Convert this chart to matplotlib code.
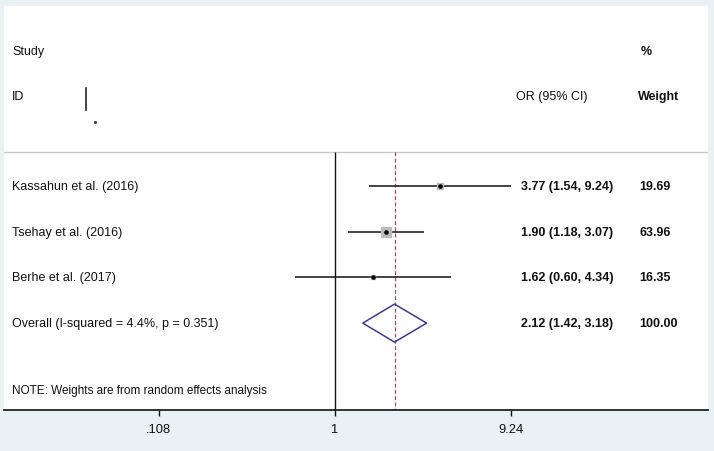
import numpy as np
import matplotlib
matplotlib.use("Agg")
import matplotlib.pyplot as plt
from matplotlib.patches import Polygon
import matplotlib.transforms as mtransforms

plt.rcParams['font.family'] = ['Liberation Sans', 'DejaVu Sans']

# ---- data ----
studies = ["Kassahun et al. (2016)", "Tsehay et al. (2016)", "Berhe et al. (2017)"]
or_est = [3.77, 1.90, 1.62]
ci_low = [1.54, 1.18, 0.60]
ci_high = [9.24, 3.07, 4.34]
weights = [19.69, 63.96, 16.35]
overall_label = "Overall (I-squared = 4.4%, p = 0.351)"
overall_est, overall_low, overall_high = 2.12, 1.42, 3.18
overall_weight = 100.00
tick_values = [0.108, 1, 9.24]
tick_labels = [".108", "1", "9.24"]
note = "NOTE: Weights are from random effects analysis"

# ---- layout (pixel based) ----
W, H = 714, 452
fig = plt.figure(figsize=(W / 100, H / 100), dpi=100)
fig.patch.set_facecolor("#e9f1f4")

left_px, right_px, top_px, bot_px = 4, 708, 7, 411
ax = fig.add_axes([left_px / W, 1 - bot_px / H, (right_px - left_px) / W, (bot_px - top_px) / H])
ax.set_facecolor("white")
ax.set_xscale("log")
ppl = 79.2       # pixels per ln unit
x1_px = 335      # pixel of OR = 1
ax.set_xlim(np.exp((left_px - x1_px) / ppl), np.exp((right_px - x1_px) / ppl))
ax.set_ylim(bot_px, top_px)

for s in ["top", "left", "right"]:
    ax.spines[s].set_visible(False)
ax.spines["bottom"].set_linewidth(1.2)
ax.spines["bottom"].set_color("#111111")
ax.set_yticks([])
ax.set_xticks(tick_values)
ax.set_xticklabels(tick_labels)
ax.minorticks_off()
ax.tick_params(axis="x", direction="out", length=4.5, width=1.0, pad=5,
               labelsize=9.3, colors="#111111")

row0, dy = 187, 45.7
rows = [row0 + i * dy for i in range(len(studies) + 1)]
sep_y = 153

# separator line
ax.axhline(sep_y, color="#c8c8c8", lw=1.0)
# null line
ax.vlines(1, sep_y, bot_px, color="#111111", lw=1.0)
# overall dashed line
ax.vlines(overall_est, sep_y, bot_px, color="#a84a55", lw=0.9, linestyles=(0, (3, 2)))

# study CIs and boxes
max_box = 7.0
for i in range(len(studies)):
    y = rows[i]
    ax.hlines(y, ci_low[i], ci_high[i], color="#111111", lw=1.1, zorder=3)
    ms = max_box * np.sqrt(weights[i] / max(weights))
    ax.plot(or_est[i], y, marker="s", ms=ms, color="#bbbbbb", mec="#bbbbbb", zorder=4)
    ax.plot(or_est[i], y, marker="o", ms=2.3, color="#000000", zorder=5)

# diamond
yo = rows[-1]
hd = 19
diamond = Polygon([(overall_low, yo), (overall_est, yo - hd), (overall_high, yo), (overall_est, yo + hd)],
                  closed=True, fill=False, edgecolor="#3c3c8c", lw=1.1, zorder=4)
ax.add_patch(diamond)

# ---- text ----
trans = mtransforms.blended_transform_factory(fig.transFigure, ax.transData)
def fx(px):
    return px / W

fs = 9
ax.text(fx(12), 52, "Study", transform=trans, fontsize=fs, va="center", ha="left", color="#111111")
ax.text(fx(12), 97, "ID", transform=trans, fontsize=fs, va="center", ha="left", color="#111111")
ax.text(fx(641), 52, "%", transform=trans, fontsize=fs, va="center", ha="left", fontweight="bold", color="#111111")
ax.text(fx(516), 97, "OR (95% CI)", transform=trans, fontsize=fs, va="center", ha="left", color="#111111")
ax.text(fx(638), 97, "Weight", transform=trans, fontsize=fs, va="center", ha="left", fontweight="bold", color="#111111")
# small artifacts near ID
ax.plot([fx(86), fx(86)], [89, 111], transform=trans, color="#222222", lw=1.2)
ax.plot([fx(95)], [123], transform=trans, marker="s", ms=1.0, color="#333333")

for i, name in enumerate(studies):
    y = rows[i]
    ax.text(fx(12), y, name, transform=trans, fontsize=fs, va="center", ha="left", color="#111111")
    ax.text(fx(521), y, f"{or_est[i]:.2f} ({ci_low[i]:.2f}, {ci_high[i]:.2f})", transform=trans,
            fontsize=fs, va="center", ha="left", fontweight="bold", color="#111111")
    ax.text(fx(639), y, f"{weights[i]:.2f}", transform=trans, fontsize=fs, va="center", ha="left",
            fontweight="bold", color="#111111")

ax.text(fx(12), yo, overall_label, transform=trans, fontsize=fs, va="center", ha="left", color="#111111")
ax.text(fx(521), yo, f"{overall_est:.2f} ({overall_low:.2f}, {overall_high:.2f})", transform=trans,
        fontsize=fs, va="center", ha="left", fontweight="bold", color="#111111")
ax.text(fx(639), yo, f"{overall_weight:.2f}", transform=trans, fontsize=fs, va="center", ha="left",
        fontweight="bold", color="#111111")

ax.text(fx(12), 391, note, transform=trans, fontsize=8.5, va="center", ha="left", color="#111111")

fig.savefig("out.png", dpi=100, facecolor=fig.get_facecolor())
